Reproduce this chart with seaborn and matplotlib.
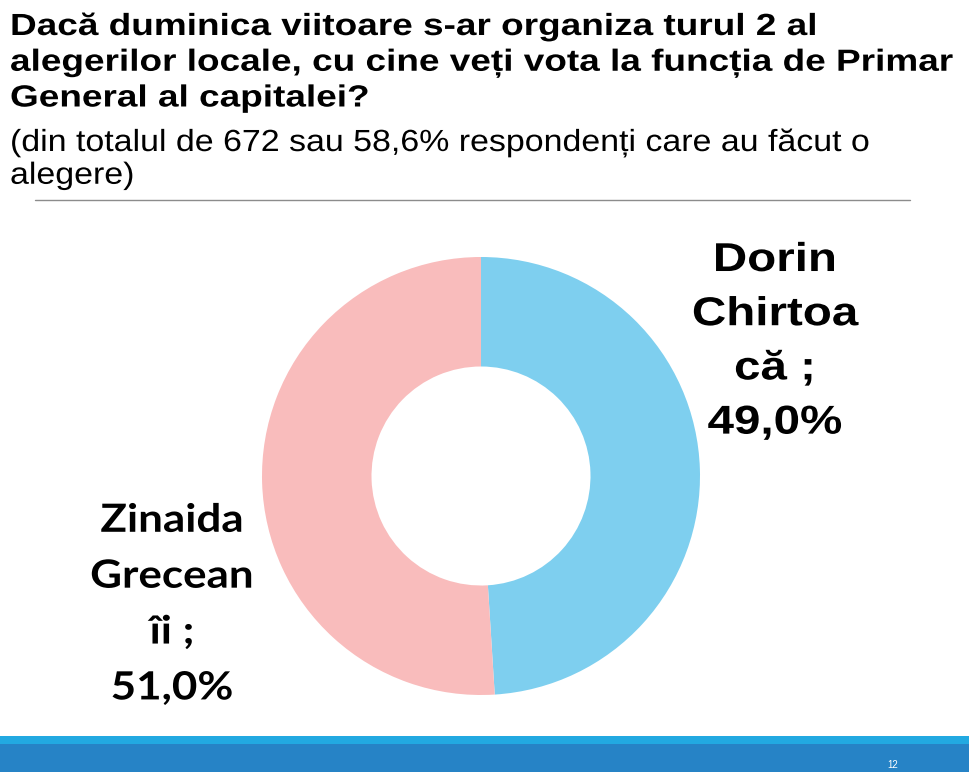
# Donut chart: turul 2, Primar General
import matplotlib.pyplot as plt
import matplotlib.patheffects as pe
from matplotlib.transforms import Affine2D
import seaborn as sns

candidates = ["Dorin\nChirtoa\ncă ;", "Zinaida\nGrecean\nîi ;"]
shares = [49.0, 51.0]
colors = ["#7ECFEF", "#F9BCBC"]

title = ("Dacă duminica viitoare s-ar organiza turul 2 al\n"
         "alegerilor locale, cu cine veți vota la funcția de Primar\n"
         "General al capitalei?")
subtitle = "(din totalul de 672 sau 58,6% respondenți care au făcut o\nalegere)"


class Stretch(pe.AbstractPathEffect):
    """widen text horizontally around x0 (pixels), like the stretched slide text"""
    def __init__(self, sx, x0):
        super().__init__()
        self.sx, self.x0 = sx, x0

    def draw_path(self, renderer, gc, tpath, affine, rgbFace=None):
        t = affine + Affine2D().translate(-self.x0, 0).scale(self.sx, 1).translate(self.x0, 0)
        renderer.draw_path(gc, tpath, t, rgbFace)


sns.set_theme(style="white")
plt.rcParams['font.family'] = ['Liberation Sans', 'DejaVu Sans']
plt.rcParams['text.color'] = 'black'

fig = plt.figure(figsize=(9.7, 7.72), dpi=100)
fig.patch.set_facecolor("white")

# donut axes, center ~ (481, 476) px, radius ~219 px
W, H = 970, 772
cx, cy, r = 481, 476, 219
ax = fig.add_axes([(cx - r) / W, (H - cy - r) / H, 2 * r / W, 2 * r / H])
ax.pie(shares, colors=colors, startangle=90, counterclock=False,
       radius=1, wedgeprops=dict(width=0.5, linewidth=0))
ax.set_xlim(-1, 1)
ax.set_ylim(-1, 1)
ax.set_aspect("equal")
ax.axis("off")

# labels
ax.text(1.342, 0.615, f"{candidates[0]}\n{shares[0]:.1f}%".replace(".", ","),
        ha="center", va="center", fontsize=29, fontweight="bold",
        linespacing=1.54, clip_on=False, family=['Liberation Sans', 'DejaVu Sans'],
        path_effects=[Stretch(1.18, 775)])
ax.text(-1.411, -0.585, f"{candidates[1]}\n{shares[1]:.1f}%".replace(".", ","),
        ha="center", va="center", fontsize=28, fontweight="bold",
        linespacing=1.72, clip_on=False, family=['Lato', 'DejaVu Sans'],
        path_effects=[Stretch(1.13, 172)])

# title block
fig.text(10 / W, 1 - 12 / H, title, ha="left", va="top", fontsize=22,
         fontweight="bold", linespacing=1.25, path_effects=[Stretch(1.21, 10)])
fig.text(10 / W, 1 - 128 / H, subtitle, ha="left", va="top", fontsize=22,
         linespacing=1.12, path_effects=[Stretch(1.11, 10)])

# separator line
fig.add_artist(plt.Line2D([35 / W, 910 / W], [1 - 200 / H, 1 - 200 / H],
                          color="#8C8C8C", linewidth=1))

# footer bars
fig.add_artist(plt.Rectangle((0, 0), 1, 28 / H, color="#2683C6", linewidth=0))
fig.add_artist(plt.Rectangle((0, 28 / H), 1, 8 / H, color="#22A9E1", linewidth=0))
fig.text(893 / W, 2 / H, "12", color="white", fontsize=7, ha="center", va="bottom")

fig.savefig("out.png", dpi=100, facecolor="white")
